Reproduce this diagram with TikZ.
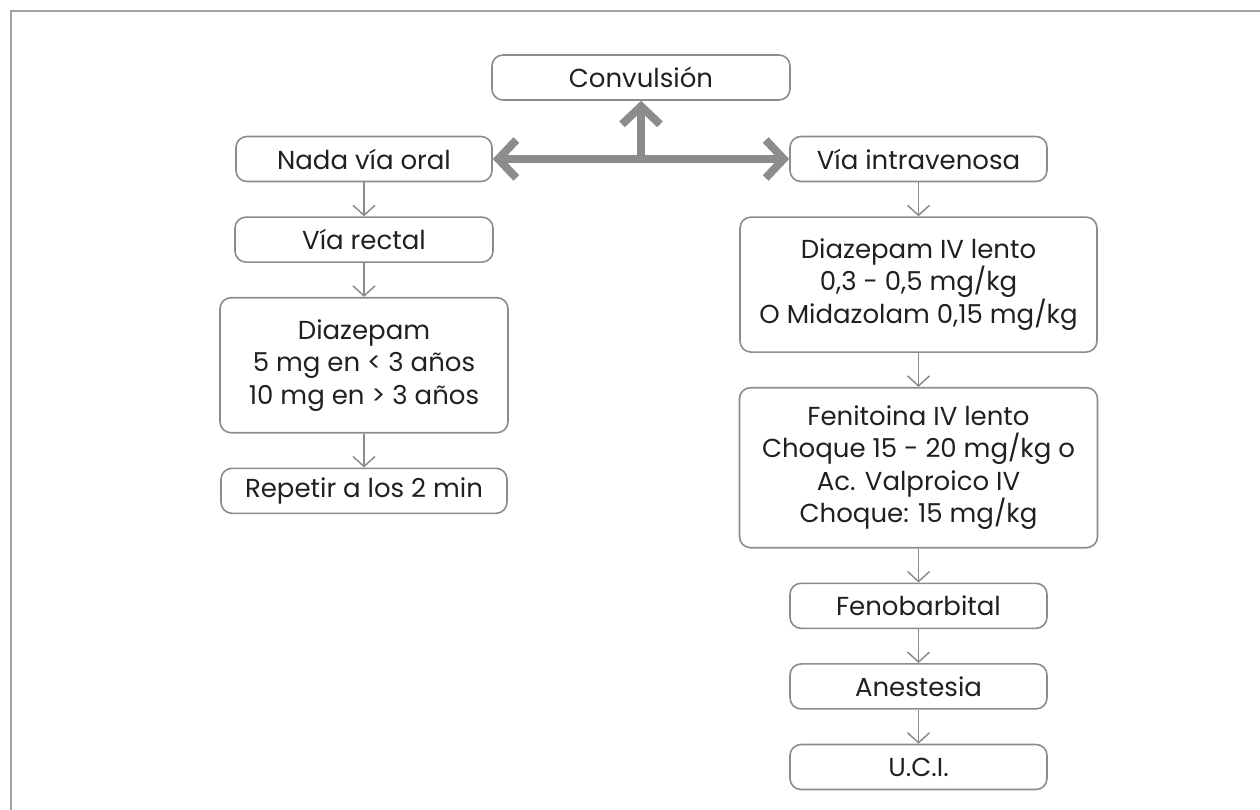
\documentclass[tikz,border=0pt]{standalone}
\usepackage{fontspec}
\setmainfont{Poppins}
\usetikzlibrary{positioning,arrows.meta}
\definecolor{linegray}{HTML}{8C8C8E}
\definecolor{framegray}{HTML}{A3A3A3}
\definecolor{textgray}{HTML}{231F20}

\begin{document}
\begin{tikzpicture}[x=1pt, y=-1pt, node distance=34pt,
    every node/.style={font=\fontsize{26}{32.5}\selectfont, text=textgray},
    box/.style={draw=linegray, line width=1.6pt, rounded corners=11pt, align=center, minimum height=45pt, inner sep=0pt},
    flow/.style={draw=linegray, line width=1.5pt, -{Straight Barb[length=10pt,width=22pt]}},
    bigtip/.tip={Straight Barb[length=18pt,width=38pt]},
    bigarrow/.style={draw=linegray, line width=8pt}]
    \useasboundingbox (0,0) rectangle (1260,810);
    \draw[framegray, line width=2.5pt] (1260,11) -- (11,11) -- (11,810);

    \node[box, minimum width=298pt] (conv) at (641,77.5) {Convulsión};
    \node[box, minimum width=256pt] (oral) at (364,159) {Nada vía oral};
    \node[box, minimum width=257pt] (iv) at (918.5,159) {Vía intravenosa};

    \node[box, minimum width=258pt, below=of oral] (rectal) {Vía rectal};
    \node[box, minimum width=288pt, minimum height=135pt, below=of rectal] (diaz) {Diazepam\\5 mg en < 3 años\\10 mg en > 3 años};
    \node[box, minimum width=286pt, below=of diaz] (rep) {Repetir a los 2 min};

    \node[box, minimum width=357pt, minimum height=135pt, below=of iv] (diaziv) {Diazepam IV lento\\0,3 - 0,5 mg/kg\\O Midazolam 0,15 mg/kg};
    \node[box, minimum width=358pt, minimum height=160pt, below=of diaziv] (feni) {Fenitoina IV lento\\Choque 15 - 20 mg/kg o\\Ac. Valproico IV\\Choque: 15 mg/kg};
    \node[box, minimum width=257pt, below=of feni] (fenob) {Fenobarbital};
    \node[box, minimum width=257pt, below=of fenob] (anes) {Anestesia};
    \node[box, minimum width=257pt, below=of anes] (uci) {U.C.I.};

    \coordinate (hub) at (conv.south |- oral.east);
    \draw[bigarrow, {bigtip}-{bigtip}] (oral.east) -- (iv.west);
    \draw[bigarrow, -{bigtip}] (hub) -- (conv.south);

    \draw[flow] (oral) -- (rectal);
    \draw[flow] (rectal) -- (diaz);
    \draw[flow] (diaz) -- (rep);
    \draw[flow] (iv) -- (diaziv);
    \draw[flow] (diaziv) -- (feni);
    \draw[flow] (feni) -- (fenob);
    \draw[flow] (fenob) -- (anes);
    \draw[flow] (anes) -- (uci);
\end{tikzpicture}
\end{document}
